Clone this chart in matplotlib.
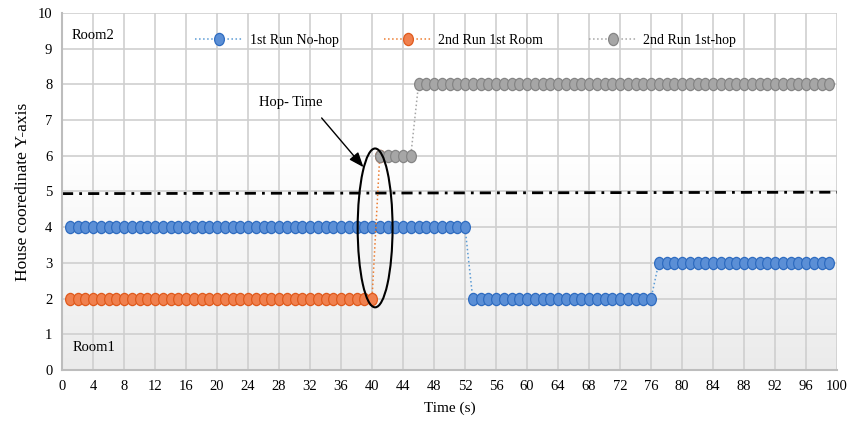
import numpy as np
import matplotlib
matplotlib.use("Agg")
import matplotlib.pyplot as plt
from matplotlib.patches import Ellipse
from matplotlib.colors import LinearSegmentedColormap
from matplotlib.path import Path
from matplotlib.transforms import Affine2D

# data (one sample per second)
t_first = np.arange(1, 100)
y_first = [4] * 52 + [2] * 24 + [3] * 23          # 1st Run No-hop

t_second_room = np.arange(1, 42)
y_second_room = [2] * 40 + [6]                    # 2nd Run 1st Room

t_second_hop = np.arange(41, 100)
y_second_hop = [6] * 5 + [8] * 54                 # 2nd Run 1st-hop

boundary_x = [0, 100]
boundary_y = [4.94, 4.98]                         # room boundary (dash-dot)

labels = ["1st Run No-hop", "2nd Run 1st Room", "2nd Run 1st-hop"]
x_ticks = list(range(0, 101, 4))
y_ticks = list(range(0, 11))

plt.rcParams["font.family"] = ["Liberation Serif", "DejaVu Serif"]

fig = plt.figure(figsize=(8.52, 4.24), dpi=100)
ax = fig.add_axes([0.0728, 0.1274, 0.9096, 0.8419])

# soft gray gradient in the lower part of the plot area
grad = np.concatenate([np.zeros(100), np.linspace(0, 1, 156)])[:, None]
cmap = LinearSegmentedColormap.from_list("bg", ["#ffffff", "#ebebeb"])
ax.imshow(grad, extent=[0, 1, 0, 1], transform=ax.transAxes, aspect="auto",
          cmap=cmap, zorder=0, origin="upper")

# slightly tall oval marker, as in the source chart
oval = Path.unit_circle().transformed(Affine2D().scale(0.8, 1.0))

ms = 8.8
ax.plot(t_first, y_first, linestyle=":", lw=1.1, color="#5b9bd5",
        marker=oval, ms=ms, mfc="#5b8fd6", mec="#2f6cc0", mew=0.9,
        label=labels[0], zorder=3)
ax.plot(t_second_room, y_second_room, linestyle=":", lw=1.1, color="#ed7d31",
        marker=oval, ms=ms, mfc="#f0804e", mec="#e05a1c", mew=0.9,
        label=labels[1], zorder=3)
ax.plot(t_second_hop, y_second_hop, linestyle=":", lw=1.1, color="#a5a5a5",
        marker=oval, ms=ms, mfc="#a6a6a6", mec="#858585", mew=0.9,
        label=labels[2], zorder=4)

ax.plot(boundary_x, boundary_y, color="black", lw=2.0,
        dashes=(4, 2.2, 1, 2.2), zorder=2)

ax.add_patch(Ellipse((40.4, 3.98), width=4.5, height=4.45, fill=False,
                     edgecolor="black", lw=1.5, zorder=5))
ax.text(29.5, 7.48, "Hop- Time", ha="center", va="center", fontsize=10.5, zorder=6)
ax.annotate("", xy=(38.9, 5.68), xytext=(33.5, 7.06),
            arrowprops=dict(arrowstyle="-|>,head_length=0.9,head_width=0.35",
                            color="black", lw=1.0, shrinkA=0, shrinkB=0),
            zorder=6)

ax.text(1.3, 9.38, "Room2", ha="left", va="center", fontsize=10.5)
ax.text(1.4, 0.62, "Room1", ha="left", va="center", fontsize=10.5)

ax.set_xlim(0, 100)
ax.set_ylim(0, 10)
ax.set_xticks(x_ticks)
ax.set_yticks(y_ticks)
ax.tick_params(length=0, labelsize=10.5, pad=7)
ax.grid(True, color="#cfcfcf", lw=1.2, zorder=1)
ax.set_axisbelow(True)
for side in ["top", "right"]:
    ax.spines[side].set_visible(False)
for side in ["left", "bottom"]:
    ax.spines[side].set_color("#bdbdbd")
    ax.spines[side].set_linewidth(1.5)

ax.set_xlabel("Time (s)", fontsize=11, labelpad=6)
ax.set_ylabel("House cooredinate Y-axis", fontsize=12.5, labelpad=5)

ax.legend(loc="center", bbox_to_anchor=(0.521, 0.924), ncol=3, frameon=False,
          fontsize=10, handlelength=3.45, handletextpad=0.45, columnspacing=3.3,
          numpoints=1)

fig.savefig("out.png", dpi=100)
